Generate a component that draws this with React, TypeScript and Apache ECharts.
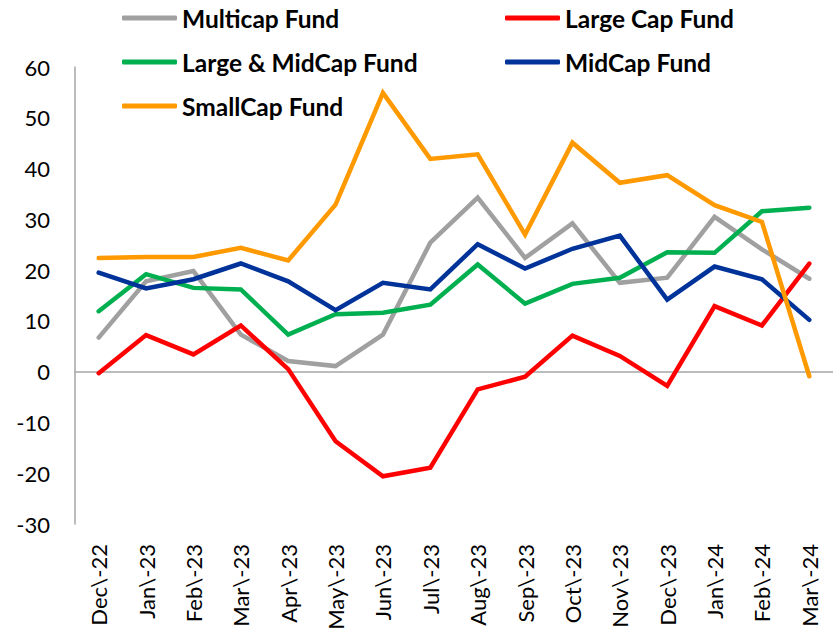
import React, { useEffect, useRef } from "react";
import * as echarts from "echarts";

const categories = [
  "Dec\\-22", "Jan\\-23", "Feb\\-23", "Mar\\-23", "Apr\\-23", "May\\-23", "Jun\\-23", "Jul\\-23",
  "Aug\\-23", "Sep\\-23", "Oct\\-23", "Nov\\-23", "Dec\\-23", "Jan\\-24", "Feb\\-24", "Mar\\-24",
];

const multicap = [6.7, 17.8, 19.8, 7.3, 2.1, 1.1, 7.3, 25.4, 34.3, 22.4, 29.2, 17.5, 18.5, 30.5, 24.1, 18.3];
const largeCap = [-0.3, 7.2, 3.4, 9.1, 0.5, -13.7, -20.6, -18.9, -3.5, -1.0, 7.1, 3.1, -2.8, 12.9, 9.1, 21.3];
const largeMidCap = [11.9, 19.2, 16.5, 16.2, 7.3, 11.3, 11.6, 13.2, 21.1, 13.4, 17.3, 18.5, 23.5, 23.4, 31.6, 32.3];
const midCap = [19.5, 16.4, 18.2, 21.3, 17.8, 12.1, 17.5, 16.2, 25.1, 20.3, 24.2, 26.8, 14.2, 20.7, 18.2, 10.2];
const smallCap = [22.4, 22.6, 22.6, 24.4, 21.9, 32.9, 54.9, 41.9, 42.8, 27.0, 45.1, 37.2, 38.7, 32.8, 29.5, -0.9];

const seriesNames = ["Multicap Fund", "Large Cap Fund", "Large & MidCap Fund", "MidCap Fund", "SmallCap Fund"];
const seriesColors = ["#A0A0A0", "#FF0000", "#00B050", "#003399", "#FF9900"];
const seriesData = [multicap, largeCap, largeMidCap, midCap, smallCap];

const yMin = -30;
const yMax = 60;
const yInterval = 10;

export default function App() {
  const ref = useRef<HTMLDivElement>(null);
  useEffect(() => {
    if (!ref.current) return;
    const chart = echarts.init(ref.current, null, { renderer: "svg" });
    const legendPos = [
      { left: 122, center: 18 },
      { left: 505, center: 18 },
      { left: 122, center: 62 },
      { left: 505, center: 62 },
      { left: 122, center: 106 },
    ];
    const legends = seriesNames.map((name, i) => ({
      data: [name],
      left: legendPos[i].left,
      top: legendPos[i].center - 13,
      padding: 0,
      icon: "roundRect",
      itemWidth: 55,
      itemHeight: 5,
      selectedMode: false,
      textStyle: {
        fontFamily: "Lato",
        fontWeight: "bold",
        fontSize: 24.5,
        lineHeight: 26,
        color: "#000000",
      },
    }));
    chart.setOption({
      animation: false,
      backgroundColor: "#ffffff",
      legend: legends,
      grid: { left: 75, right: -13, top: 67, bottom: 109, containLabel: false },
      xAxis: {
        type: "category",
        data: categories,
        boundaryGap: true,
        axisLine: { onZero: true, lineStyle: { color: "#A6A6A6", width: 1.5 } },
        axisTick: { show: false },
        axisLabel: {
          rotate: 90,
          interval: 0,
          margin: 20,
          fontFamily: "Lato",
          fontSize: 22,
          color: "#000000",
        },
        splitLine: { show: false },
      },
      yAxis: {
        type: "value",
        min: yMin,
        max: yMax,
        interval: yInterval,
        axisLine: { show: true, lineStyle: { color: "#A6A6A6", width: 1.5 } },
        axisTick: { show: false },
        splitLine: { show: false },
        axisLabel: {
          margin: 25,
          fontFamily: "Lato",
          fontSize: 22,
          color: "#000000",
        },
      },
      series: seriesNames.map((name, i) => ({
        name,
        type: "line",
        data: seriesData[i],
        symbol: "none",
        showSymbol: false,
        color: seriesColors[i],
        lineStyle: { color: seriesColors[i], width: 4.5, cap: "round", join: "miter" },
        z: 2 + i,
      })),
    });
    return () => chart.dispose();
  }, []);
  return (
    <div
      ref={ref}
      style={{ position: "absolute", left: 0, top: 0, width: 833, height: 633 }}
    />
  );
}
